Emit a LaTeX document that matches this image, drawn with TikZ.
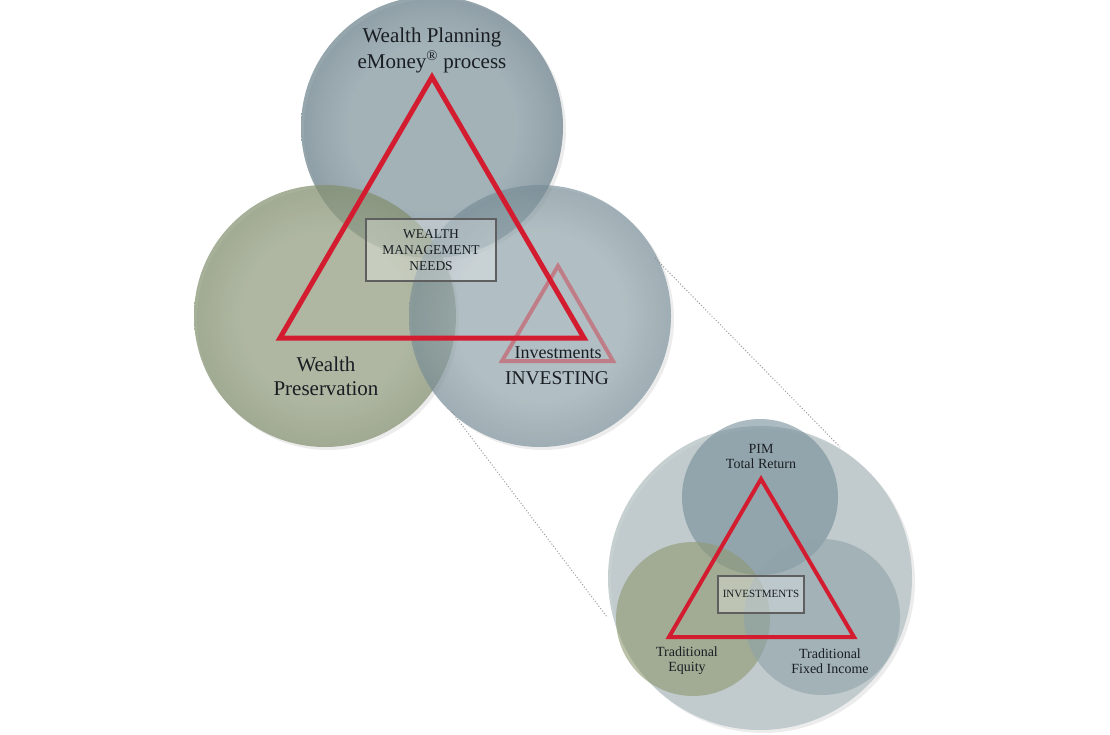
\documentclass[tikz,border=0pt]{standalone}
\usepackage{fontspec}
\setmainfont{Liberation Serif}
\usetikzlibrary{shadows}
\definecolor{topin}{RGB}{135,156,164}
\definecolor{topout}{RGB}{108,130,140}
\definecolor{greenin}{RGB}{152,163,134}
\definecolor{greenout}{RGB}{132,145,112}
\definecolor{bluein}{RGB}{146,166,173}
\definecolor{blueout}{RGB}{118,140,150}
\definecolor{bigc}{RGB}{175,188,190}
\definecolor{stopc}{RGB}{117,142,153}
\definecolor{sgreenc}{RGB}{142,153,112}
\definecolor{sbluec}{RGB}{142,162,171}
\definecolor{redc}{RGB}{212,28,48}
\definecolor{boxc}{RGB}{95,95,95}
\definecolor{txtc}{RGB}{25,30,35}
\pgfdeclareradialshading{topshade}{\pgfpointorigin}{color(0bp)=(topin); color(16bp)=(topin); color(25bp)=(topout); color(50bp)=(topout)}
\pgfdeclareradialshading{greenshade}{\pgfpointorigin}{color(0bp)=(greenin); color(16bp)=(greenin); color(25bp)=(greenout); color(50bp)=(greenout)}
\pgfdeclareradialshading{blueshade}{\pgfpointorigin}{color(0bp)=(bluein); color(16bp)=(bluein); color(25bp)=(blueout); color(50bp)=(blueout)}
\tikzset{
  disc/.style={circle, inner sep=0pt, draw=none},
  softshadow/.style={drop shadow={shadow xshift=3pt, shadow yshift=-3pt, opacity=0.15}},
  redtri/.style={draw=redc, line width=5pt, line join=miter},
  labeltxt/.style={text=txtc, align=center, inner sep=0pt},
  needbox/.style={draw=boxc, line width=2.5pt, fill=white, fill opacity=0.3, text opacity=1, text=txtc, align=center},
  zoomline/.style={draw=gray!80, dotted, line width=1pt}
}
\begin{document}
\begin{tikzpicture}[x=1pt,y=-1pt]
\useasboundingbox (0,0) rectangle (1110,735);
% dotted connectors
\coordinate (z1) at (655,258);
\coordinate (z2) at (840,447);
\coordinate (z3) at (452,412);
\coordinate (z4) at (607,617);
\draw[zoomline] (z1) -- (z2);
\draw[zoomline] (z3) -- (z4);
% main circles
\node[disc, softshadow, shading=topshade, fill opacity=0.72, minimum size=262pt] (ctop) at (432,127) {};
\node[disc, softshadow, shading=greenshade, fill opacity=0.72, minimum size=262pt] (cleft) at (325,316) {};
\node[disc, softshadow, shading=blueshade, fill opacity=0.65, minimum size=262pt] (cright) at (540,316) {};
% small pink triangle
\coordinate (p1) at (558,266);
\coordinate (p2) at (502,361);
\coordinate (p3) at (613,361);
\draw[draw=redc, draw opacity=0.4, line width=4pt] (p1) -- (p2) -- (p3) -- cycle;
% big red triangle
\coordinate (t1) at (432,77);
\coordinate (t2) at (280,338);
\coordinate (t3) at (584,338);
\draw[redtri] (t1) -- (t2) -- (t3) -- cycle;
% box
\node[needbox, minimum width=130pt, minimum height=62pt, font=\fontsize{13.5}{16}\selectfont] (needs) at (431,250) {WEALTH\\MANAGEMENT\\NEEDS};
% labels
\node[labeltxt, font=\fontsize{21}{26}\selectfont] (lplan) at (432,50) {Wealth Planning\\eMoney\textsuperscript{\textregistered}\ process};
\node[labeltxt, font=\fontsize{21}{24}\selectfont] (lpres) at (326,376) {Wealth\\Preservation};
\node[labeltxt, font=\fontsize{18}{20}\selectfont] (linv) at (558,353) {Investments};
\node[labeltxt, font=\fontsize{19.5}{20}\selectfont] (lINV) at (557,378) {INVESTING};
% zoomed diagram
\node[disc, softshadow, fill=bigc, fill opacity=0.7, minimum size=304pt] (cbig) at (760,578) {};
\node[disc, fill=stopc, fill opacity=0.6, minimum size=156pt] (stop) at (760,497) {};
\node[disc, fill=sgreenc, fill opacity=0.6, minimum size=154pt] (sleft) at (693,619) {};
\node[disc, fill=sbluec, fill opacity=0.6, minimum size=156pt] (sright) at (822,617) {};
\coordinate (s1) at (761,479);
\coordinate (s2) at (669,637);
\coordinate (s3) at (854,637);
\draw[draw=redc, line width=4pt] (s1) -- (s2) -- (s3) -- cycle;
\node[needbox, line width=2pt, minimum width=86pt, minimum height=37pt, font=\fontsize{11}{13}\selectfont] (sinv) at (761,594) {INVESTMENTS};
\node[labeltxt, font=\fontsize{14}{15}\selectfont] (lpim) at (761,456) {PIM\\Total Return};
\node[labeltxt, font=\fontsize{14}{15}\selectfont] (leq) at (687,661) {Traditional\\Equity};
\node[labeltxt, font=\fontsize{14}{15}\selectfont] (lfi) at (830,661) {Traditional\\Fixed Income};
\end{tikzpicture}
\end{document}
